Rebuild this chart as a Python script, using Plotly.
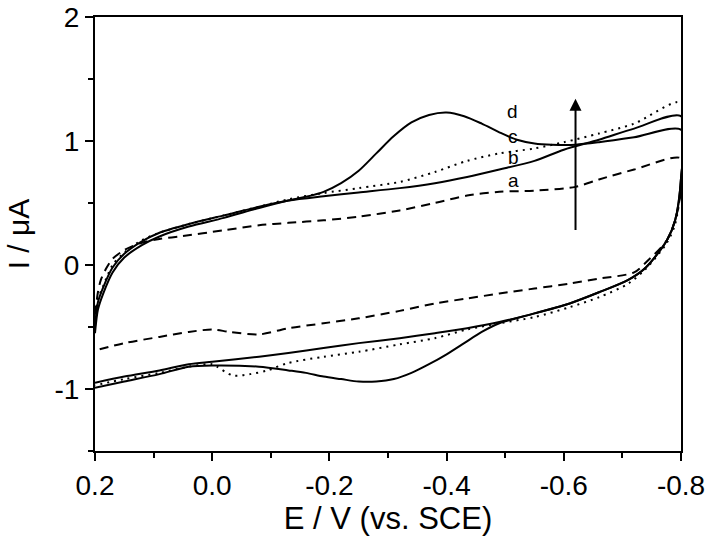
import plotly.graph_objects as go

# Curve a (dashed): forward scan 0.2 -> -0.8, then reverse -0.8 -> 0.2
a_E = [0.20, 0.195, 0.19, 0.18, 0.17, 0.15, 0.12, 0.09, 0.055, -0.02, -0.08, -0.13, -0.19, -0.25,
       -0.32, -0.38, -0.435, -0.49, -0.55, -0.62, -0.66, -0.72, -0.80,
       -0.80, -0.79, -0.776, -0.74, -0.72, -0.66, -0.61, -0.55, -0.49, -0.435, -0.38, -0.32,
       -0.25, -0.19, -0.13, -0.08, -0.03, 0.00, 0.04, 0.09, 0.15, 0.20]
a_I = [-0.40, -0.22, -0.12, -0.02, 0.05, 0.12, 0.18, 0.21, 0.23, 0.28, 0.32, 0.34, 0.36, 0.39,
       0.44, 0.50, 0.56, 0.59, 0.60, 0.63, 0.69, 0.77, 0.86,
       0.60, 0.36, 0.20, 0.02, -0.06, -0.11, -0.15, -0.19, -0.23, -0.27, -0.31, -0.37,
       -0.43, -0.47, -0.51, -0.56, -0.54, -0.52, -0.54, -0.58, -0.63, -0.69]

# Curve b (dotted)
b_E = [0.20, 0.195, 0.186, 0.17, 0.15, 0.12, 0.09, 0.04, -0.02, -0.08, -0.13, -0.19, -0.25,
       -0.32, -0.38, -0.435, -0.49, -0.55, -0.60, -0.66, -0.72, -0.80,
       -0.80, -0.79, -0.776, -0.74, -0.71, -0.66, -0.61, -0.55, -0.49, -0.435, -0.38, -0.32,
       -0.25, -0.19, -0.13, -0.094, -0.065, -0.035, -0.008, 0.00, 0.04, 0.09, 0.15, 0.20]
b_I = [-0.45, -0.28, -0.17, 0.00, 0.10, 0.20, 0.26, 0.33, 0.40, 0.47, 0.53, 0.58, 0.62,
       0.67, 0.75, 0.84, 0.90, 0.94, 0.99, 1.06, 1.14, 1.31,
       0.65, 0.33, 0.18, -0.03, -0.15, -0.26, -0.34, -0.42, -0.47, -0.52, -0.59, -0.64,
       -0.70, -0.74, -0.79, -0.85, -0.88, -0.89, -0.82, -0.80, -0.82, -0.87, -0.92, -0.97]

# Curve c (solid, background)
c_E = [0.20, 0.195, 0.186, 0.17, 0.15, 0.12, 0.09, 0.04, -0.02, -0.08, -0.13, -0.19,
       -0.25, -0.32, -0.38, -0.435, -0.49, -0.55, -0.60, -0.66, -0.72, -0.80,
       -0.80, -0.79, -0.776, -0.74, -0.71, -0.66, -0.61, -0.55, -0.49, -0.435, -0.38, -0.32,
       -0.25, -0.19, -0.13, -0.08, 0.00, 0.04, 0.09, 0.15, 0.20]
c_I = [-0.50, -0.30, -0.18, -0.02, 0.09, 0.19, 0.26, 0.33, 0.40, 0.47, 0.52, 0.555,
       0.585, 0.62, 0.66, 0.71, 0.77, 0.84, 0.93, 1.01, 1.10, 1.20,
       0.70, 0.36, 0.20, -0.02, -0.12, -0.22, -0.31, -0.39, -0.46, -0.51, -0.55, -0.59,
       -0.63, -0.67, -0.71, -0.74, -0.78, -0.80, -0.85, -0.90, -0.95]

# Curve d (solid, with redox peaks)
d_E = [0.20, 0.195, 0.186, 0.17, 0.15, 0.12, 0.09, 0.04, -0.02, -0.08, -0.13, -0.16, -0.19,
       -0.22, -0.25, -0.28, -0.31, -0.34, -0.37, -0.40, -0.43, -0.46, -0.49, -0.52,
       -0.55, -0.58, -0.62, -0.66, -0.72, -0.80,
       -0.80, -0.79, -0.776, -0.74, -0.71, -0.66, -0.61, -0.55, -0.49, -0.46, -0.43, -0.40,
       -0.37, -0.34, -0.31, -0.28, -0.25, -0.22, -0.19, -0.16, -0.13, -0.08, 0.00, 0.04,
       0.09, 0.15, 0.20]
d_I = [-0.55, -0.36, -0.23, -0.06, 0.06, 0.16, 0.23, 0.31, 0.38, 0.46, 0.52, 0.55, 0.59,
       0.66, 0.76, 0.90, 1.04, 1.15, 1.21, 1.23, 1.20, 1.14, 1.07, 1.01,
       0.98, 0.97, 0.97, 0.99, 1.03, 1.09,
       0.70, 0.36, 0.20, -0.02, -0.12, -0.22, -0.31, -0.39, -0.47, -0.54, -0.63, -0.72,
       -0.80, -0.87, -0.92, -0.94, -0.94, -0.92, -0.90, -0.87, -0.85, -0.82, -0.81, -0.82,
       -0.88, -0.94, -0.99]

curve_labels = ["d", "c", "b", "a"]
label_E = [-0.513, -0.513, -0.515, -0.515]
label_I = [1.24, 1.04, 0.87, 0.68]

arrow_E = -0.62
arrow_from_I = 0.27
arrow_to_I = 1.34

x_tickvals = [0.2, 0.0, -0.2, -0.4, -0.6, -0.8]
x_ticktext = ["0.2", "0.0", "-0.2", "-0.4", "-0.6", "-0.8"]
y_tickvals = [-1, 0, 1, 2]
y_ticktext = ["-1", "0", "1", "2"]

FONT = "Arial, Liberation Sans, Helvetica, sans-serif"

fig = go.Figure()
series = [
    (a_E, a_I, "9px,6px"),
    (b_E, b_I, "2px,5px"),
    (c_E, c_I, "solid"),
    (d_E, d_I, "solid"),
]
for E, I, dash in series:
    fig.add_trace(go.Scatter(
        x=E, y=I, mode="lines",
        line=dict(color="black", width=2, dash=dash, shape="spline", smoothing=0.8),
        showlegend=False, hoverinfo="skip",
    ))

for t, xe, yi in zip(curve_labels, label_E, label_I):
    fig.add_annotation(x=xe, y=yi, text=t, showarrow=False,
                       font=dict(family=FONT, size=19, color="black"))

fig.add_annotation(x=arrow_E, y=arrow_to_I, ax=arrow_E, ay=arrow_from_I,
                   xref="x", yref="y", axref="x", ayref="y",
                   text="", showarrow=True, arrowhead=2, arrowsize=1.2,
                   arrowwidth=2, arrowcolor="black", standoff=0, startstandoff=0)

axis_common = dict(
    showline=True, linecolor="black", linewidth=2, mirror=True,
    ticks="outside", ticklen=8, tickwidth=2, tickcolor="black",
    showgrid=False, zeroline=False, ticklabeloverflow="allow",
    tickfont=dict(family=FONT, size=28, color="black"),
)

fig.update_xaxes(
    range=[0.2, -0.8], tickmode="array", tickvals=x_tickvals, ticktext=x_ticktext,
    minor=dict(tickmode="linear", tick0=0, dtick=0.1, ticks="outside", ticklen=5,
               tickwidth=2, tickcolor="black"),
    title=dict(text="E / V (vs. SCE)", font=dict(family=FONT, size=31, color="black"),
               standoff=8),
    **axis_common,
)
fig.update_yaxes(
    range=[-1.5, 2.0], tickmode="array", tickvals=y_tickvals, ticktext=y_ticktext,
    minor=dict(tickmode="linear", tick0=0, dtick=0.5, ticks="outside", ticklen=5,
               tickwidth=2, tickcolor="black"),
    title=dict(text="I / μA", font=dict(family=FONT, size=30, color="black"),
               standoff=16),
    **axis_common,
)

fig.update_layout(
    width=710, height=550,
    margin=dict(l=95, r=29, t=17, b=99, autoexpand=False),
    plot_bgcolor="white", paper_bgcolor="white",
)

# remove the browser's default 8px page margin so the figure fills the window
fig.write_html("out.html", config=dict(displayModeBar=False),
               post_script="document.body.style.margin='0';document.body.style.overflow='hidden';")
